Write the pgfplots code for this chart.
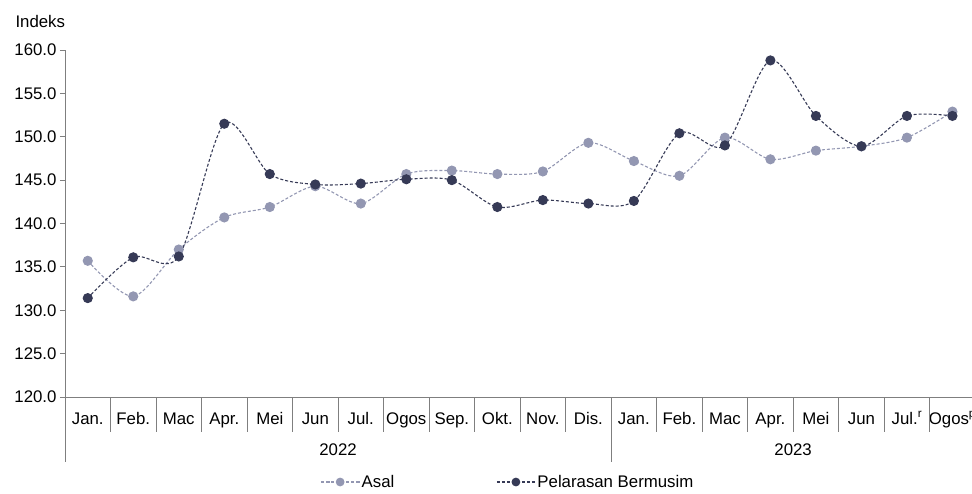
\documentclass[border=0pt]{standalone}
\usepackage{fontspec}
\setmainfont{Liberation Sans}
\usepackage{pgfplots}
\pgfplotsset{compat=1.18}
\definecolor{asal}{HTML}{9397B2}
\definecolor{pel}{HTML}{363A56}
\definecolor{axg}{HTML}{7F7F7F}
\begin{document}
\begin{tikzpicture}[font=\fontsize{16.8bp}{20bp}\selectfont]
\path[use as bounding box] (0,0) rectangle (972bp,494bp);
\begin{axis}[
  at={(65bp,97bp)}, anchor=south west,
  scale only axis, width=907bp, height=347bp,
  xmin=-0.5, xmax=19.43, ymin=120, ymax=160,
  clip=false,
  axis lines*=left,
  axis line style={axg, line width=0.8bp},
  ytick={120,125,...,160},
  yticklabel style={/pgf/number format/.cd, fixed, fixed zerofill, precision=1, assume math mode=true},
  tick align=outside, major tick length=5bp,
  ytick style={axg, line width=0.8bp},
  xtick={0,...,19},
  xtick style={draw=none},
  xticklabels={Jan.,Feb.,Mac,Apr.,Mei,Jun,Jul.,Ogos,Sep.,Okt.,Nov.,Dis.,Jan.,Feb.,Mac,Apr.,Mei,Jun,Jul.\textsuperscript{r},Ogos\textsuperscript{p}},
  xticklabel style={anchor=center, text height=12bp, text depth=4bp, yshift=-18bp},
  legend style={at={(rel axis cs:0.4884,-0.245)}, anchor=center, draw=none, fill=none,
    legend columns=2, /tikz/every even column/.append style={column sep=100bp}},
  legend image code/.code={\draw[#1, mark repeat=2, mark phase=2, mark size=3.8bp] plot coordinates {(0bp,0bp)(19bp,0bp)(38bp,0bp)};},
]
\addplot[asal, line width=1.1bp, dash pattern=on 3bp off 2bp, smooth, mark=*, mark size=4.5bp, mark options={solid, draw=asal, fill=asal}]
 coordinates {(0,135.7)(1,131.6)(2,137.0)(3,140.7)(4,141.9)(5,144.3)(6,142.3)(7,145.7)(8,146.1)(9,145.7)(10,146.0)(11,149.3)(12,147.2)(13,145.5)(14,149.9)(15,147.4)(16,148.4)(17,148.9)(18,149.9)(19,152.9)};
\addlegendentry{Asal}
\addplot[pel, line width=1.1bp, dash pattern=on 3bp off 2bp, smooth, mark=*, mark size=4.5bp, mark options={solid, draw=pel, fill=pel}]
 coordinates {(0,131.4)(1,136.1)(2,136.2)(3,151.5)(4,145.7)(5,144.5)(6,144.6)(7,145.1)(8,145.0)(9,141.9)(10,142.7)(11,142.3)(12,142.6)(13,150.4)(14,149.0)(15,158.8)(16,152.4)(17,148.9)(18,152.4)(19,152.4)};
\addlegendentry{Pelarasan Bermusim}
\pgfplotsinvokeforeach{0.5,1.5,...,18.5}{\draw[axg, line width=0.8bp] (axis cs:#1,120) -- ++(0bp,-35bp);}
\draw[axg, line width=0.8bp] (axis cs:-0.5,120) -- ++(0bp,-65bp);
\draw[axg, line width=0.8bp] (axis cs:11.5,120) -- ++(0bp,-65bp);
\node at (axis cs:5.5,120) [yshift=-53bp] {2022};
\node at (axis cs:15.5,120) [yshift=-53bp] {2023};
\node[anchor=base west] at (rel axis cs:0,1) [xshift=-53bp, yshift=22bp] {Indeks};
\end{axis}
\end{tikzpicture}
\end{document}
